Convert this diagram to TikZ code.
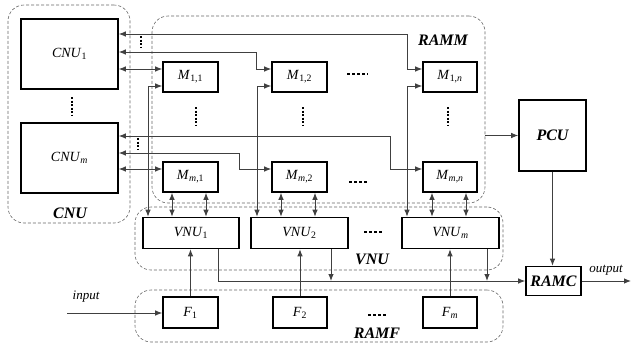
\documentclass[tikz,border=0pt]{standalone}
\usepackage{fontspec}
\setmainfont{Liberation Serif}
\usetikzlibrary{arrows.meta}
\newcommand\lab[2]{\textit{#1}\textsubscript{#2}}
\tikzset{
  blk/.style={draw=black, line width=1.6pt, fill=white, inner sep=0pt, font=\fontsize{14}{15}\selectfont},
  grp/.style={draw=black!60, dash pattern=on 3pt off 2pt, line width=0.6pt, rounded corners=16pt, inner sep=0pt},
  big/.style={font=\fontsize{16}{17}\selectfont\bfseries\itshape},
  conn/.style={draw=black!75, line width=0.9pt},
  ar/.style={conn, -{Latex[length=7pt,width=5.5pt]}},
  bi/.style={conn, {Latex[length=7pt,width=5.5pt]}-{Latex[length=7pt,width=5.5pt]}},
  vdots/.style={draw=black, line width=1.6pt, dash pattern=on 2pt off 1.5pt},
  sdots/.style={draw=black, line width=1.2pt, dash pattern=on 2pt off 1.5pt},
  hdots/.style={draw=black, line width=1.4pt, dash pattern=on 3pt off 2pt},
}
\begin{document}
\begin{tikzpicture}[x=1pt,y=-1pt]
\useasboundingbox (0,0) rectangle (631,346);
% groups
\node[grp, minimum width=122pt, minimum height=218pt] (gCNU) at (69,114) {};
\node[grp, minimum width=333pt, minimum height=187pt] (gRAMM) at (318.5,109.5) {};
\node[grp, minimum width=368pt, minimum height=63pt] (gVNU) at (319,238.5) {};
\node[grp, minimum width=368pt, minimum height=52pt] (gRAMF) at (319,316) {};
% CNU
\node[blk, minimum width=97pt, minimum height=70pt] (CNU1) at (69.5,54) {\lab{CNU}{1}};
\node[blk, minimum width=97pt, minimum height=70pt] (CNUm) at (69.5,158) {\lab{CNU}{\textit{m}}};
% M
\node[blk, minimum width=55pt, minimum height=30pt] (M11) at (190.5,77) {\lab{M}{1,1}};
\node[blk, minimum width=55pt, minimum height=30pt] (M12) at (299.5,77) {\lab{M}{1,2}};
\node[blk, minimum width=54pt, minimum height=30pt] (M1n) at (450,77) {\lab{M}{1,\textit{n}}};
\node[blk, minimum width=55pt, minimum height=30pt] (Mm1) at (190.5,177) {\lab{M}{\textit{m},1}};
\node[blk, minimum width=55pt, minimum height=30pt] (Mm2) at (299.5,177) {\lab{M}{\textit{m},2}};
\node[blk, minimum width=54pt, minimum height=30pt] (Mmn) at (450,177) {\lab{M}{\textit{m},\textit{n}}};
% VNU
\node[blk, minimum width=96pt, minimum height=31pt] (VNU1) at (191,233) {\lab{VNU}{1}};
\node[blk, minimum width=97pt, minimum height=31pt] (VNU2) at (299.5,233) {\lab{VNU}{2}};
\node[blk, minimum width=97pt, minimum height=31pt] (VNUm) at (450.5,233) {\lab{VNU}{\textit{m}}};
% F
\node[blk, minimum width=55pt, minimum height=31pt] (F1) at (190.5,312.5) {\lab{F}{1}};
\node[blk, minimum width=54pt, minimum height=31pt] (F2) at (300,312.5) {\lab{F}{2}};
\node[blk, minimum width=54pt, minimum height=31pt] (Fm) at (450,312.5) {\lab{F}{\textit{m}}};
% PCU, RAMC
\node[blk, big, minimum width=67pt, minimum height=71pt] (PCU) at (552.5,135.5) {PCU};
\node[blk, big, minimum width=55pt, minimum height=29pt] (RAMC) at (553.5,281) {RAMC};
% labels
\node[big] (lCNU) at (70,213) {CNU};
\node[big] (lRAMM) at (443,40) {RAMM};
\node[big] (lVNU) at (372,259) {VNU};
\node[big] (lRAMF) at (377,333) {RAMF};
\node[font=\fontsize{13}{14}\selectfont\itshape] (lin) at (86,297) {input};
\node[font=\fontsize{13}{14}\selectfont\itshape] (lout) at (606,270) {output};
% CNU1 connections
\draw[bi] (CNU1.east |- 0,34) -| (407,69) -- (M1n.west |- 0,69);
\draw[bi] (CNU1.east |- 0,52) -| (256,69) -- (M12.west |- 0,69);
\draw[bi] (CNU1.east |- 0,69) -- (M11.west |- 0,69);
% CNUm connections
\draw[bi] (CNUm.east |- 0,136) -| (390,169) -- (Mmn.west |- 0,169);
\draw[bi] (CNUm.east |- 0,153) -| (239,169) -- (Mm2.west |- 0,169);
\draw[bi] (CNUm.east |- 0,169) -- (Mm1.west |- 0,169);
% VNU to M lower inputs
\draw[bi] (M11.west |- 0,86) -| (VNU1.north -| 148,0);
\draw[bi] (M12.west |- 0,86) -| (VNU2.north -| 257,0);
\draw[bi] (M1n.west |- 0,86) -| (VNUm.north -| 407,0);
% Mm to VNU
\draw[bi] (Mm1.south -| 172,0) -- (VNU1.north -| 172,0);
\draw[bi] (Mm1.south -| 206,0) -- (VNU1.north -| 206,0);
\draw[bi] (Mm2.south -| 281,0) -- (VNU2.north -| 281,0);
\draw[bi] (Mm2.south -| 315,0) -- (VNU2.north -| 315,0);
\draw[bi] (Mmn.south -| 432,0) -- (VNUm.north -| 432,0);
\draw[bi] (Mmn.south -| 466,0) -- (VNUm.north -| 466,0);
% F to VNU
\draw[ar] (F1.north) -- (F1.north |- VNU1.south);
\draw[ar] (F2.north) -- (F2.north |- VNU2.south);
\draw[ar] (Fm.north) -- (Fm.north |- VNUm.south);
% VNU outputs
\draw[ar] (VNU1.south -| 218,0) |- (RAMC.west);
\draw[ar] (VNU2.south -| 331,0) -- (331,281);
\draw[ar] (VNUm.south -| 487,0) -- (487,281);
% input / output
\coordinate (inp) at (67,313);
\coordinate (outp) at (631,281);
\draw[ar] (inp) -- (F1.west |- inp);
\draw[ar] (RAMC.east) -- (outp);
% PCU
\draw[ar] (gRAMM.east |- PCU.west) -- (PCU.west);
\draw[ar] (PCU.south) -- (PCU.south |- RAMC.north);
% dots
\draw[vdots] (72,97) -- (72,116);
\draw[vdots] (196,107) -- (196,126);
\draw[vdots] (303,107) -- (303,126);
\draw[vdots] (448,107) -- (448,126);
\draw[sdots] (141,36) -- (141,48);
\draw[sdots] (138,138) -- (138,150);
\draw[hdots] (347,74) -- (368,74);
\draw[hdots] (349,182) -- (368,182);
\draw[hdots] (364,232) -- (383,232);
\draw[hdots] (368,315) -- (387,315);
\end{tikzpicture}
\end{document}
